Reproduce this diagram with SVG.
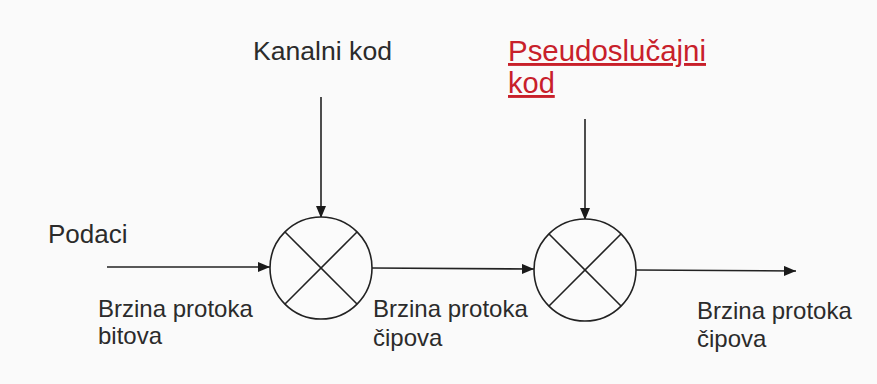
<svg xmlns="http://www.w3.org/2000/svg" width="877" height="384" viewBox="0 0 877 384">
  <style>
    .bg { fill: #fafafa; }
    .lbl { font-family: "Liberation Sans", Arial, sans-serif; fill: #2b2b2b; }
    .red { font-family: "Liberation Sans", Arial, sans-serif; fill: #c8202a; text-decoration: underline; }
    .wire { stroke: #222; stroke-width: 1.6; fill: none; }
    .mixer { stroke: #222; stroke-width: 1.6; fill: #fbfbfb; }
  </style>
  <defs>
    <marker id="arrow" viewBox="0 0 12 10" refX="12" refY="5" markerWidth="12" markerHeight="10" markerUnits="userSpaceOnUse" orient="auto">
      <path d="M0,0 L12,5 L0,10 Z" fill="#1a1a1a"/>
    </marker>
  </defs>

  <rect class="bg" x="0" y="0" width="877" height="384"/>

  <!-- connectors -->
  <g id="connectors">
    <line class="wire" x1="107" y1="267" x2="270" y2="267" marker-end="url(#arrow)"/>
    <line class="wire" x1="372" y1="268" x2="534" y2="269" marker-end="url(#arrow)"/>
    <line class="wire" x1="636" y1="270" x2="796" y2="271" marker-end="url(#arrow)"/>
    <line class="wire" x1="321" y1="97" x2="321" y2="218" marker-end="url(#arrow)"/>
    <line class="wire" x1="585" y1="119" x2="585" y2="220" marker-end="url(#arrow)"/>
  </g>

  <!-- first multiplier -->
  <g id="mixer1">
    <circle class="mixer" cx="321" cy="268" r="51"/>
    <line class="wire" x1="285" y1="232" x2="357" y2="304"/>
    <line class="wire" x1="357" y1="232" x2="285" y2="304"/>
  </g>

  <!-- second multiplier -->
  <g id="mixer2">
    <circle class="mixer" cx="585" cy="270" r="51"/>
    <line class="wire" x1="549" y1="234" x2="621" y2="306"/>
    <line class="wire" x1="621" y1="234" x2="549" y2="306"/>
  </g>

  <g id="label-kanalni">
    <text class="lbl" x="253" y="60" font-size="26" textLength="139" lengthAdjust="spacingAndGlyphs">Kanalni kod</text>
  </g>

  <g id="label-pn">
    <text class="red" x="508" y="61" font-size="29" textLength="198" lengthAdjust="spacingAndGlyphs">Pseudoslučajni</text>
    <text class="red" x="508" y="93" font-size="29">kod</text>
  </g>

  <g id="label-podaci">
    <text class="lbl" x="48" y="243" font-size="26">Podaci</text>
  </g>

  <g id="label-rate1">
    <text class="lbl" x="98" y="317" font-size="24">Brzina protoka</text>
    <text class="lbl" x="98" y="344" font-size="24">bitova</text>
  </g>

  <g id="label-rate2">
    <text class="lbl" x="373" y="317" font-size="24">Brzina protoka</text>
    <text class="lbl" x="373" y="346" font-size="24">čipova</text>
  </g>

  <g id="label-rate3">
    <text class="lbl" x="697" y="319" font-size="24">Brzina protoka</text>
    <text class="lbl" x="697" y="347" font-size="24">čipova</text>
  </g>
</svg>
